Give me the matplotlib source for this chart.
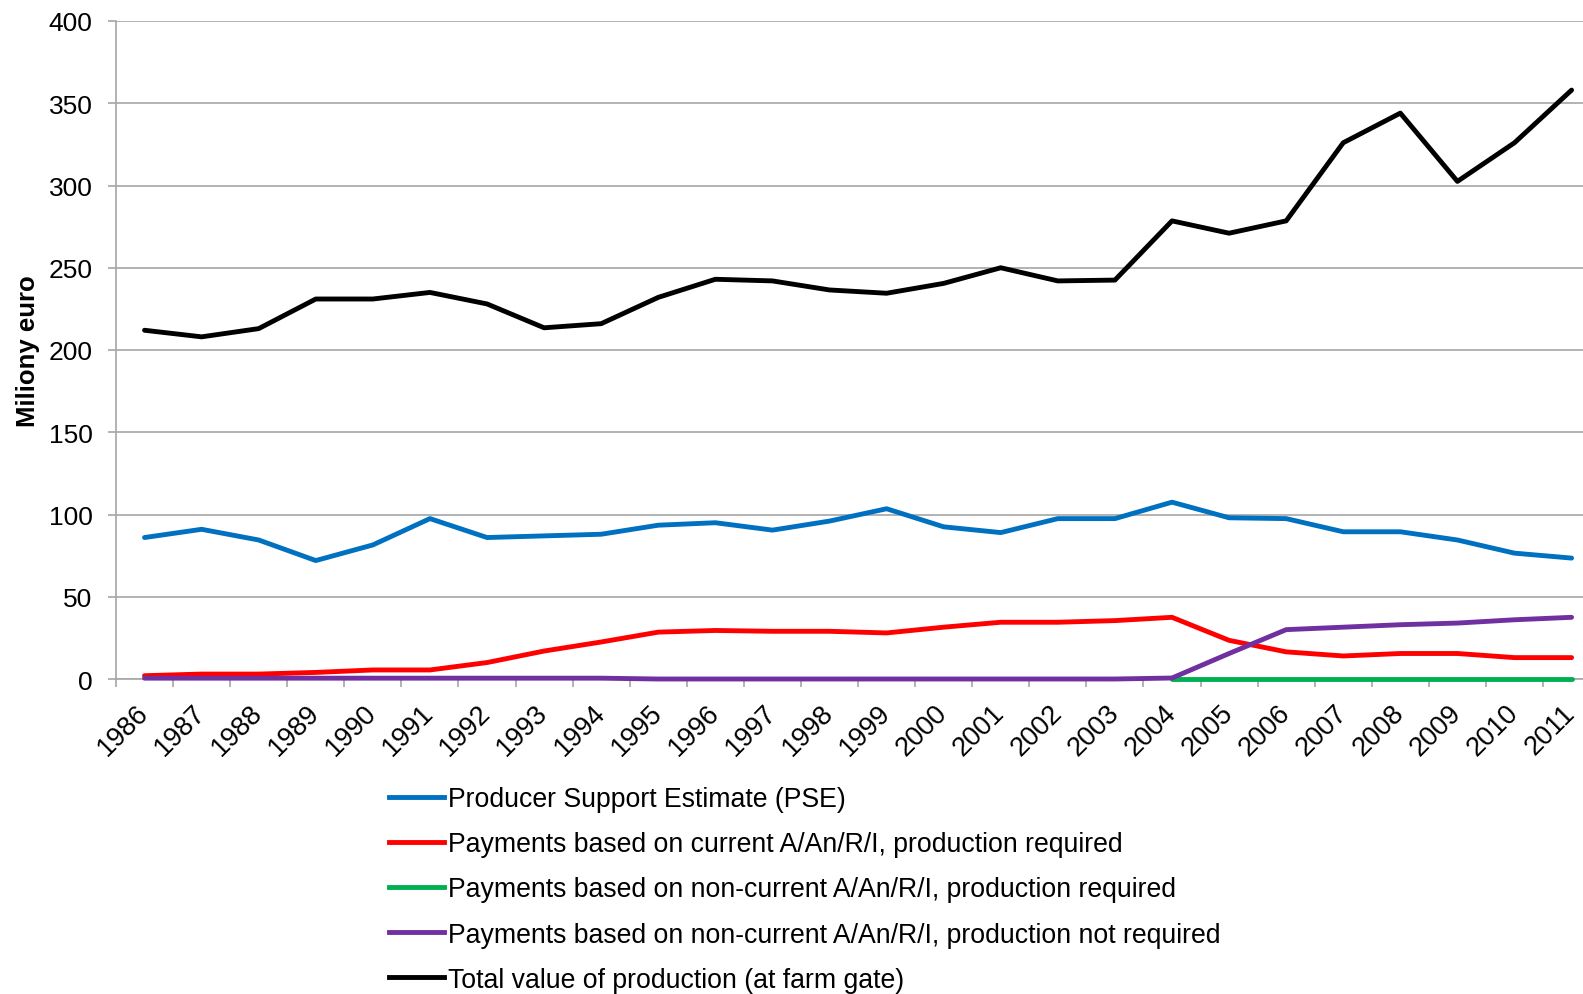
# -------------------------------
# 1. 必要なモジュール
# -------------------------------
import numpy as np
import matplotlib
matplotlib.use("Agg")
import matplotlib.pyplot as plt
from matplotlib.lines import Line2D

plt.rcParams['font.family'] = ['Liberation Sans', 'DejaVu Sans']

# -------------------------------
# 2. データ
# -------------------------------
years = [str(y) for y in range(1986, 2012)]  # 横軸のカテゴリ

pse = [86, 91, 84.5, 72, 81.5, 97.5, 86, 87, 88, 93.5, 95, 90.5, 96,
       103.5, 92.5, 89, 97.5, 97.5, 107.5, 98, 97.5, 89.5, 89.5, 84.5, 76.5, 73.5]
current_required = [2, 3, 3, 4, 5.5, 5.5, 10, 17, 22.5, 28.5, 29.5, 29, 29,
                    28, 31.5, 34.5, 34.5, 35.5, 37.5, 23.5, 16.5, 14, 15.5, 15.5, 13, 13]
noncurrent_required = [np.nan, np.nan, np.nan, np.nan, np.nan, np.nan, np.nan, np.nan, np.nan,
                       np.nan, np.nan, np.nan, np.nan, np.nan, np.nan, np.nan, np.nan, np.nan,
                       0.3, 0.3, 0.3, 0.3, 0.3, 0.3, 0.3, 0.3]
noncurrent_not_required = [0.5, 0.5, 0.5, 0.5, 0.5, 0.5, 0.5, 0.5, 0.5, 0, 0, 0, 0,
                           0, 0, 0, 0, 0, 0.6, 15.5, 30, 31.5, 33, 34, 36, 37.5]
total_value = [212, 208, 213, 231, 231, 235, 228, 213.5, 216, 232, 243, 242, 236.5,
               234.5, 240.5, 250, 242, 242.5, 278.5, 271, 278.5, 326, 344, 302.5, 326, 358]

labels = ["Producer Support Estimate (PSE)",
          "Payments based on current A/An/R/I, production required",
          "Payments based on non-current A/An/R/I, production required",
          "Payments based on non-current A/An/R/I, production not required",
          "Total value of production (at farm gate)"]
colors = ["#0070C0", "#FF0000", "#00B050", "#7030A0", "#000000"]
series = [pse, current_required, noncurrent_required, noncurrent_not_required, total_value]

# -------------------------------
# 3. 図の作成
# -------------------------------
W, H = 1583, 995
fig = plt.figure(figsize=(W / 100, H / 100), dpi=100)
ax = fig.add_axes([116 / W, (H - 680) / H, (W - 116) / W, (680 - 22) / H])

x = np.arange(len(years))
for vals, col in zip(series, colors):
    ax.plot(x, vals, color=col, lw=3.5, solid_joinstyle='round', solid_capstyle='round',
            clip_on=False, zorder=3)

grid_col = "#A6A6A6"
ax.set_ylim(0, 400)
ax.set_xlim(-0.5, 25.2)
ax.set_yticks(range(0, 401, 50))
ax.yaxis.grid(True, color=grid_col, lw=1.2)
ax.set_axisbelow(True)

for side in ["top", "right"]:
    ax.spines[side].set_visible(False)
for side in ["left", "bottom"]:
    ax.spines[side].set_color(grid_col)
    ax.spines[side].set_linewidth(1.2)

# 目盛り（カテゴリ境界に小さい線、ラベルは中央）
ax.set_xticks(x)
ax.set_xticklabels(years, rotation=45, ha='right', va='center', rotation_mode='anchor',
                   fontsize=19.5)
ax.set_xticks(np.arange(-0.5, 25, 1.0), minor=True)
ax.tick_params(axis='x', which='major', length=0, pad=21)
ax.tick_params(axis='x', which='minor', length=6, width=1.2, color=grid_col, direction='out')
ax.tick_params(axis='y', length=6, width=1.2, color=grid_col, pad=11, labelsize=19)

fig.text(28 / W, 1 - 351 / H, "Miliony euro", rotation=90, ha='center', va='center',
         fontsize=18.5, fontweight='bold')

# -------------------------------
# 4. 凡例
# -------------------------------
handles = [Line2D([], [], color=c, lw=3.5) for c in colors]
fig.legend(handles, labels, loc='upper left', bbox_to_anchor=(389 / W, 1 - 787 / H),
           frameon=False, fontsize=19.2, handlelength=2.05, handletextpad=0.15,
           labelspacing=0.72, borderpad=0, borderaxespad=0)

fig.savefig("out.png", dpi=100)
